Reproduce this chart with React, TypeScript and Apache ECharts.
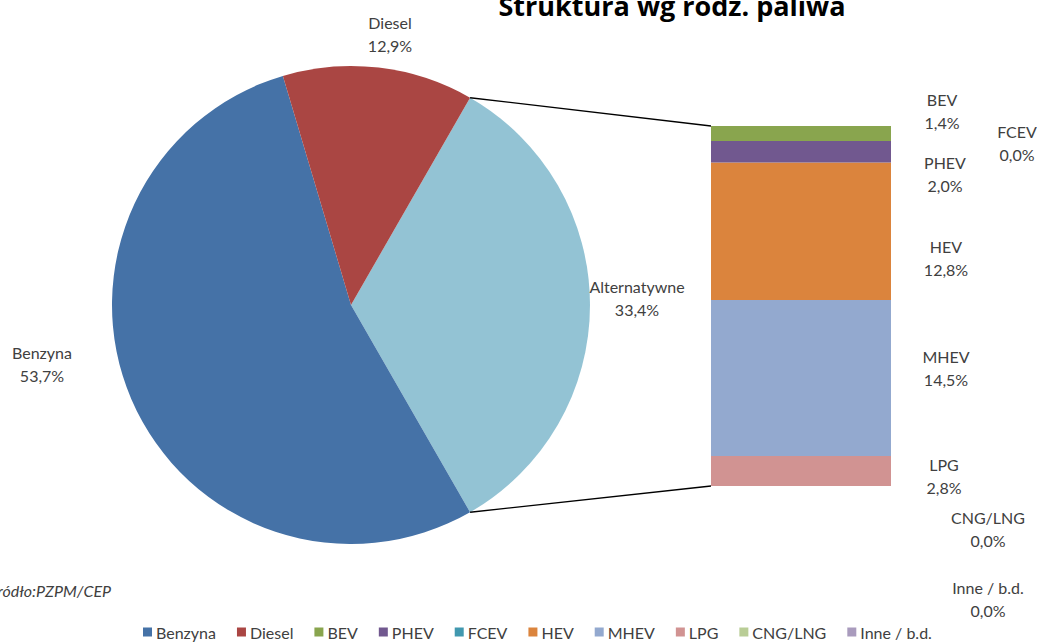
import React, { useEffect, useRef } from "react";
import * as echarts from "echarts";

const title = "Struktura wg rodz. paliwa";
const source = "Źródło:PZPM/CEP";

const pieNames = ["Alternatywne", "Benzyna", "Diesel"];
const pieValues = [33.4, 53.7, 12.9];
const pieColors = ["#93C3D4", "#4572A7", "#AA4643"];

// stacked from the bottom up
const barNames = ["Inne / b.d.", "CNG/LNG", "LPG", "MHEV", "HEV", "FCEV", "PHEV", "BEV"];
const barValues = [0.0, 0.0, 2.8, 14.5, 12.8, 0.0, 2.0, 1.4];
const barColors = ["#A99BBD", "#B9CD96", "#D19392", "#93A9CF", "#DB843D", "#4198AF", "#71588F", "#89A54E"];

const legendOrder = ["Benzyna", "Diesel", "BEV", "PHEV", "FCEV", "HEV", "MHEV", "LPG", "CNG/LNG", "Inne / b.d."];

// label placement (style)
const barLabelPos: Record<string, [number, number]> = {
  "Inne / b.d.": [277, 113],
  "CNG/LNG": [277, 43],
  LPG: [233, 20],
  MHEV: [235, 68],
  HEV: [235, 95],
  FCEV: [306, -20],
  PHEV: [234, 33],
  BEV: [231, -15],
};
const pieLabelPos: Record<string, [number, number]> = {
  Alternatywne: [637, 298],
  Benzyna: [42, 364],
  Diesel: [390, 34],
};

const FONT = "Lato";
const TXT = "#404040";

const fmt = (v: number) => v.toFixed(1).replace(".", ",") + "%";

export default function App() {
  const ref = useRef<HTMLDivElement>(null);
  useEffect(() => {
    if (!ref.current) return;
    const chart = echarts.init(ref.current, null, { renderer: "svg" });

    const cx = 351, cy = 305, r = 239;
    const gridLeft = 711, gridTop = 126, gridW = 180, gridH = 360;
    const pieTotal = pieValues.reduce((a, b) => a + b, 0);
    const altShare = pieValues[0] / pieTotal;
    const half = altShare * Math.PI;
    const barTotal = barValues.reduce((a, b) => a + b, 0);

    const pA = [cx + r * Math.cos(half), cy - r * Math.sin(half)];
    const pB = [cx + r * Math.cos(half), cy + r * Math.sin(half)];

    chart.setOption({
      animation: false,
      backgroundColor: "#fff",
      textStyle: { fontFamily: FONT },
      title: {
        text: title,
        left: 667,
        textAlign: "center",
        top: -13,
        textStyle: { fontFamily: "Open Sans", fontWeight: "bold", fontSize: 27, color: "#000" },
      },
      legend: {
        data: legendOrder,
        left: 143,
        top: 624,
        padding: 0,
        itemWidth: 9,
        itemHeight: 9,
        itemGap: 21,
        icon: "rect",
        textStyle: { fontFamily: FONT, fontSize: 16, color: TXT, padding: [0, 0, 0, -1] },
      },
      grid: { left: gridLeft, top: gridTop, width: gridW, height: gridH },
      xAxis: { type: "category", data: ["Alternatywne"], show: false },
      yAxis: { type: "value", min: 0, max: barTotal, show: false, splitLine: { show: false } },
      graphic: [
        {
          type: "line",
          shape: { x1: pA[0], y1: pA[1], x2: gridLeft, y2: gridTop },
          style: { stroke: "#000", lineWidth: 1.3 },
          z: 10,
        },
        {
          type: "line",
          shape: { x1: pB[0], y1: pB[1], x2: gridLeft, y2: gridTop + gridH },
          style: { stroke: "#000", lineWidth: 1.3 },
          z: 10,
        },
        {
          type: "text",
          x: 111,
          y: 590,
          style: {
            text: source,
            align: "right",
            verticalAlign: "middle",
            font: "italic 16px Lato",
            fill: TXT,
          },
        },
      ],
      series: [
        {
          type: "pie",
          center: [cx, cy],
          radius: r,
          startAngle: altShare * 180,
          clockwise: true,
          silent: true,
          itemStyle: { borderWidth: 0 },
          data: pieNames.map((n, i) => ({ name: n, value: pieValues[i], itemStyle: { color: pieColors[i] } })),
          label: {
            show: true,
            position: "outside",
            formatter: (p: any) => `${p.name}\n${fmt(p.value)}`,
            fontFamily: FONT,
            fontSize: 16,
            lineHeight: 23,
            color: TXT,
            align: "center",
          },
          labelLine: { show: false },
          labelLayout: (p: any) => {
            const pos = pieLabelPos[pieNames[p.dataIndex]];
            return { x: pos[0], y: pos[1], align: "center", verticalAlign: "middle" };
          },
        },
        ...barNames.map((n, i) => ({
          type: "bar",
          name: n,
          stack: "alt",
          barWidth: "100%",
          silent: true,
          itemStyle: { color: barColors[i] },
          data: [barValues[i]],
          label: {
            show: true,
            position: barLabelPos[n],
            align: "center",
            verticalAlign: "middle",
            formatter: (p: any) => `${n}\n${fmt(p.value)}`,
            fontFamily: FONT,
            fontSize: 16,
            lineHeight: 23,
            color: TXT,
          },
        })),
      ],
    });
    return () => chart.dispose();
  }, []);
  return <div ref={ref} style={{ position: "fixed", left: 0, top: 0, width: 1037, height: 643 }} />;
}
